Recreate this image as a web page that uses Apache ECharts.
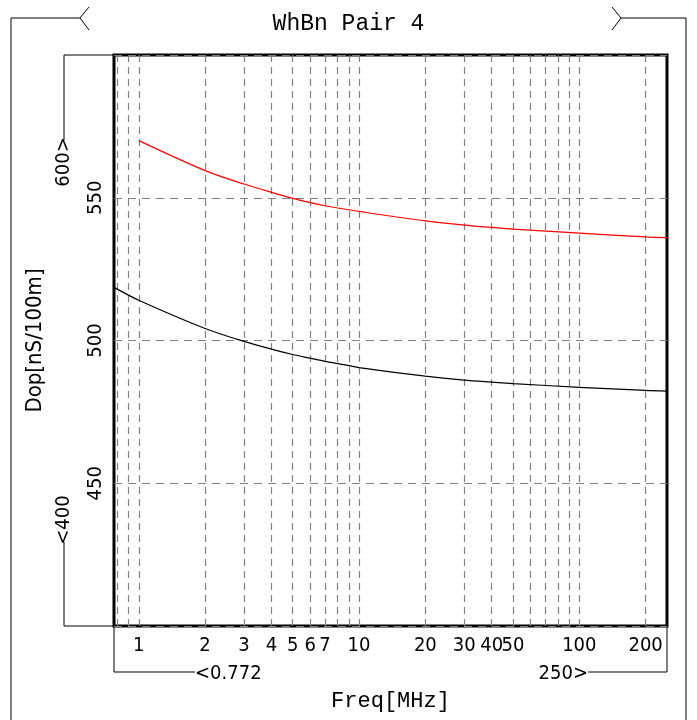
<!DOCTYPE html>
<html>
<head>
<meta charset="utf-8">
<script src="https://cdn.jsdelivr.net/npm/echarts@6/dist/echarts.min.js"></script>
<style>
  html, body { margin: 0; padding: 0; background: #fff; }
  #chart { width: 697px; height: 720px; }
</style>
</head>
<body>
<div id="chart"></div>
<script>
// frequencies in MHz (log axis)
const freqs = [0.772, 1, 2, 3, 4, 5, 6, 7, 8, 9, 10, 20, 30, 40, 50, 100, 200, 250]
// delay values
const redDop = [null, 570.0, 559.5, 554.8, 551.9, 549.8, 548.3, 547.2, 546.4, 545.8, 545.2, 541.9, 540.4, 539.6, 539.0, 537.6, 536.3, 536.0]
const blackDop = [518.6, 514.1, 504.2, 499.7, 497.0, 495.1, 493.8, 492.7, 491.9, 491.2, 490.5, 487.5, 486.1, 485.4, 484.9, 483.6, 482.5, 482.3]

const gridFreqs = [0.8, 0.9, 1, 2, 3, 4, 5, 6, 7, 8, 9, 10, 20, 30, 40, 50, 60, 70, 80, 90, 100, 200]
const labelFreqs = [1, 2, 3, 4, 5, 6, 7, 10, 20, 30, 40, 50, 100, 200]

const xMin = 0.772
const xMax = 250
const yMin = 400
const yMax = 600

const narrow = '"Liberation Sans Narrow", "DejaVu Sans Condensed", sans-serif'
const mono = '"Liberation Mono", "DejaVu Sans Mono", monospace'

const toPairs = (vals) => freqs.map((f, i) => [f, vals[i]]).filter((p) => p[1] != null)

const chart = echarts.init(document.getElementById('chart'))

const L = 114, T = 55, R = 667, B = 626

const line = (pts) => ({
  type: 'polyline',
  shape: { points: pts },
  style: { stroke: '#000', lineWidth: 1, fill: null },
  silent: true
})
const txt = (x, y, text, opts) => ({
  type: 'text',
  x, y,
  rotation: opts.rotation || 0,
  style: {
    text,
    font: '20px ' + narrow,
    fill: '#000',
    align: opts.align || 'center',
    verticalAlign: 'middle'
  },
  silent: true
})

const option = {
  animation: false,
  backgroundColor: '#fff',
  title: {
    text: 'WhBn Pair 4',
    left: 'center',
    top: 7,
    textStyle: { fontFamily: mono, fontSize: 23, fontWeight: 'normal', color: '#000' }
  },
  grid: {
    left: L, top: T, right: 697 - R, bottom: 720 - B,
    show: true, borderColor: '#000', borderWidth: 3
  },
  xAxis: {
    type: 'log',
    logBase: 10,
    min: xMin,
    max: xMax,
    name: 'Freq[MHz]',
    nameLocation: 'middle',
    nameGap: 64,
    nameTextStyle: { fontFamily: mono, fontSize: 22, color: '#000' },
    axisLine: { show: false },
    axisTick: { show: false },
    splitLine: { show: false },
    axisLabel: {
      customValues: labelFreqs,
      margin: 10,
      fontFamily: narrow,
      fontSize: 20,
      color: '#000',
      formatter: (v) => String(v)
    }
  },
  yAxis: {
    type: 'value',
    min: yMin,
    max: yMax,
    interval: 50,
    name: 'Dop[nS/100m]',
    nameLocation: 'middle',
    nameGap: 68,
    nameRotate: 90,
    nameTextStyle: { fontFamily: narrow, fontSize: 22, color: '#000' },
    axisLine: { show: false },
    axisTick: { show: false },
    axisLabel: {
      rotate: 90,
      margin: 8,
      align: 'center',
      verticalAlign: 'bottom',
      padding: [0, 0, 0, 0],
      showMinLabel: false,
      showMaxLabel: false,
      fontFamily: narrow,
      fontSize: 20,
      color: '#000',
      rich: {}
    },
    splitLine: {
      show: true,
      lineStyle: { color: '#808080', type: [8, 6], width: 1.2 }
    }
  },
  series: [
    {
      name: 'grid',
      type: 'line',
      data: [],
      silent: true,
      markLine: {
        silent: true,
        symbol: ['none', 'none'],
        label: { show: false },
        lineStyle: { color: '#808080', type: [7, 5], width: 1.2 },
        data: gridFreqs.map((f) => ({ xAxis: f }))
      }
    },
    {
      name: 'red',
      type: 'line',
      data: toPairs(redDop),
      smooth: 0.3,
      symbol: 'none',
      lineStyle: { color: '#ff0000', width: 1.2 },
      z: 5
    },
    {
      name: 'black',
      type: 'line',
      data: toPairs(blackDop),
      smooth: 0.3,
      symbol: 'none',
      lineStyle: { color: '#000', width: 1.2 },
      z: 5
    }
  ],
  graphic: [
    // outer frame with chevrons
    line([[11, 720], [11, 18], [80, 18]]),
    line([[89, 7], [80, 18], [89, 30]]),
    line([[686, 720], [686, 18], [621, 18]]),
    line([[612, 7], [621, 18], [612, 30]]),
    // y range brackets
    line([[L, T], [64, T], [64, 140]]),
    txt(64, 162, '600>', { rotation: Math.PI / 2 }),
    line([[L, B], [64, B], [64, 542]]),
    txt(64, 520, '<400', { rotation: Math.PI / 2 }),
    // x range brackets
    line([[L, B], [L, 672], [195, 672]]),
    txt(195, 674, '<0.772', { align: 'left' }),
    line([[R, B], [R, 672], [588, 672]]),
    txt(588, 674, '250>', { align: 'right' })
  ]
}

chart.setOption(option)
</script>
</body>
</html>
